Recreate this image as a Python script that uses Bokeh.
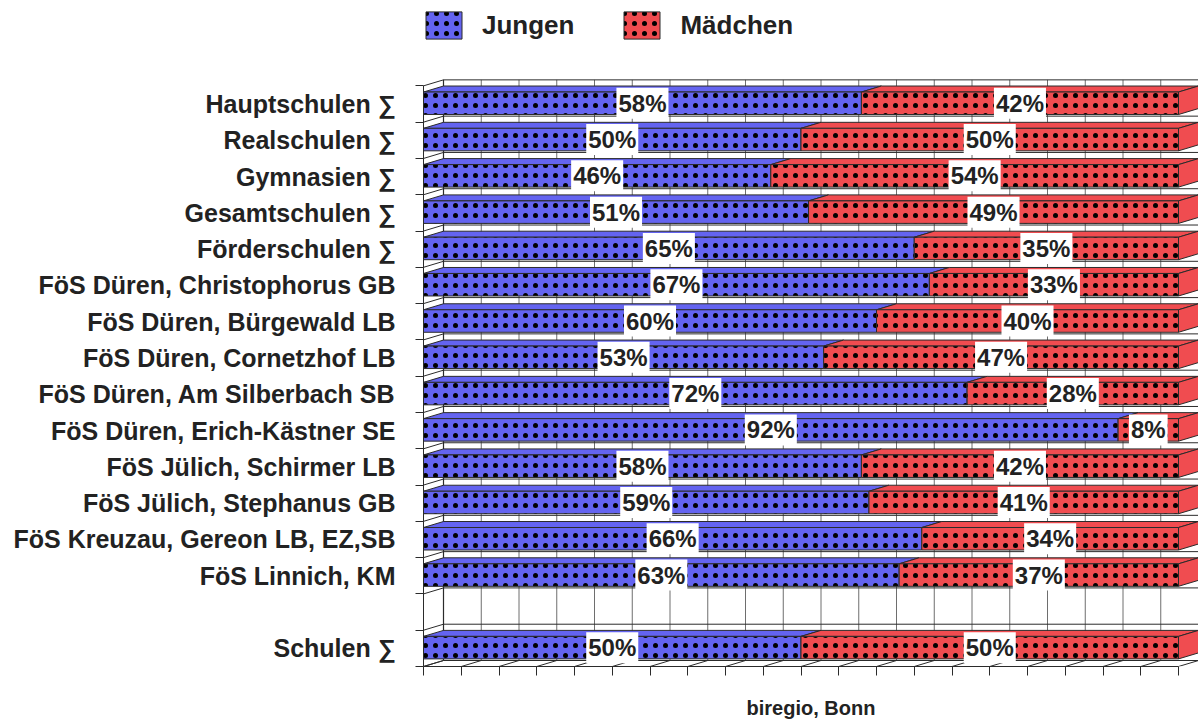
from bokeh.plotting import figure
from bokeh.models import Range1d, FixedTicker, Legend, LegendItem, ColumnDataSource
from bokeh.core.properties import value
from bokeh.embed import file_html
from bokeh.resources import INLINE

# ---------------- data ----------------
categories = [
    "Hauptschulen ∑", "Realschulen ∑", "Gymnasien ∑", "Gesamtschulen ∑",
    "Förderschulen ∑", "FöS Düren, Christophorus GB", "FöS Düren, Bürgewald LB",
    "FöS Düren, Cornetzhof LB", "FöS Düren, Am Silberbach SB",
    "FöS Düren, Erich-Kästner SE", "FöS Jülich, Schirmer LB",
    "FöS Jülich, Stephanus GB", "FöS Kreuzau, Gereon LB, EZ,SB",
    "FöS Linnich, KM", "Schulen ∑",
]
jungen = [58, 50, 46, 51, 65, 67, 60, 53, 72, 92, 58, 59, 66, 63, 50]
maedchen = [42, 50, 54, 49, 35, 33, 40, 47, 28, 8, 42, 41, 34, 37, 50]
series_names = ["Jungen", "Mädchen"]
source_note = "biregio, Bonn"

# ---------------- styling / layout ----------------
BLUE = "#6464F0"
RED = "#F04C50"
EDGE = "#2b2b2b"
GRID = "#6e6e6e"
TXT = "#222222"
FONT = "Liberation Sans"

N_SLOTS = 16
slots = list(range(14)) + [15]          # one empty slot before the total row
FIG_W, FIG_H = 1198, 721
LEFT, BOTTOM = 423, 55
FRAME_W, FRAME_H = FIG_W - LEFT, FIG_H - BOTTOM
PX_Y = 36.29
DX_PX, DY_PX = 20, 6
PX_X = (FRAME_W - DX_PX) / 100.0
DX = DX_PX / PX_X
DY = DY_PX / PX_Y
Y_TOP = FRAME_H / PX_Y
H = 0.62
OFF = 0.02

p = figure(width=FIG_W, height=FIG_H,
           x_range=Range1d(0, 100 + DX), y_range=Range1d(0, Y_TOP),
           output_backend="svg", toolbar_location=None,
           min_border_left=LEFT, min_border_right=0,
           min_border_top=0, min_border_bottom=BOTTOM)
p.outline_line_color = None
p.xgrid.visible = False
p.ygrid.visible = False
p.background_fill_color = "white"

# ---------------- 3D walls ----------------
gx = [5 * k for k in range(21)]
p.segment(x0=[g + DX for g in gx], y0=DY, x1=[g + DX for g in gx], y1=N_SLOTS + DY,
          line_color=GRID, line_width=1)
bounds = list(range(N_SLOTS + 1))
p.segment(x0=DX, y0=[b + DY for b in bounds], x1=100 + DX, y1=[b + DY for b in bounds],
          line_color=EDGE, line_width=1)
p.segment(x0=DX, y0=DY, x1=DX, y1=N_SLOTS + DY, line_color=EDGE, line_width=1.2)
p.segment(x0=0, y0=bounds, x1=DX, y1=[b + DY for b in bounds], line_color=EDGE, line_width=1)
p.segment(x0=gx, y0=0, x1=[g + DX for g in gx], y1=DY, line_color=EDGE, line_width=1)

# ---------------- bars ----------------
yc = [N_SLOTS - s - 0.5 + OFF for s in slots]
bot = [y - H / 2 for y in yc]
top = [y + H / 2 for y in yc]
ends = [j + m for j, m in zip(jungen, maedchen)]

def top_faces(x0s, x1s):
    xs, ys = [], []
    for a, b, t in zip(x0s, x1s, top):
        xs.append([a, b, b + DX, a + DX])
        ys.append([t, t, t + DY, t + DY])
    return xs, ys

bx, by = top_faces([0] * len(jungen), jungen)
p.patches(bx, by, fill_color=BLUE, line_color=EDGE, line_width=1)
rx, ry = top_faces(jungen, ends)
p.patches(rx, ry, fill_color=RED, line_color=EDGE, line_width=1)
sx = [[e, e + DX, e + DX, e] for e in ends]
sy = [[b, b + DY, t + DY, t] for b, t in zip(bot, top)]
p.patches(sx, sy, fill_color=RED, line_color=EDGE, line_width=1)

rb = p.quad(left=0, right=jungen, bottom=bot, top=top,
            fill_color=BLUE, line_color=EDGE, line_width=1,
            hatch_pattern="dot", hatch_color="black", hatch_scale=10, hatch_weight=2.5)
rr = p.quad(left=jungen, right=ends, bottom=bot, top=top,
            fill_color=RED, line_color=EDGE, line_width=1,
            hatch_pattern="dot", hatch_color="black", hatch_scale=10, hatch_weight=2.5)

# ---------------- value labels ----------------
lab = ColumnDataSource(dict(
    x=[j / 2 for j in jungen] + [j + m / 2 for j, m in zip(jungen, maedchen)],
    y=yc + yc,
    t=[f"{v}%" for v in jungen] + [f"{v}%" for v in maedchen],
))
p.text(x="x", y="y", text="t", source=lab, text_align="center", text_baseline="middle",
       text_font=value(FONT), text_font_style="bold", text_font_size="24px",
       text_color=TXT, background_fill_color="white", padding=2)

# ---------------- axes ----------------
centers = [N_SLOTS - s - 0.5 for s in slots]
ya = p.yaxis[0]
ya.ticker = FixedTicker(ticks=centers, minor_ticks=bounds)
ya.major_label_overrides = {c: name for c, name in zip(centers, categories)}
ya.bounds = (0, N_SLOTS)
ya.major_tick_out = 0
ya.major_tick_in = 0
ya.minor_tick_out = 8
ya.minor_tick_in = 0
ya.minor_tick_line_color = EDGE
ya.axis_line_color = EDGE
ya.major_label_standoff = 20
ya.major_label_text_font = FONT
ya.major_label_text_font_style = "bold"
ya.major_label_text_font_size = "25px"
ya.major_label_text_color = TXT

xa = p.xaxis[0]
xa.ticker = FixedTicker(ticks=gx, minor_ticks=[])
xa.major_label_overrides = {float(g): "" for g in gx}
xa.bounds = (0, 100)
xa.major_tick_out = 9
xa.major_tick_in = 0
xa.minor_tick_out = 0
xa.minor_tick_in = 0
xa.major_tick_line_color = EDGE
xa.axis_line_color = EDGE
xa.major_label_standoff = 0
xa.axis_label = source_note
xa.axis_label_standoff = 21
xa.axis_label_text_font = FONT
xa.axis_label_text_font_style = "bold"
xa.axis_label_text_font_size = "20px"
xa.axis_label_text_color = TXT

# ---------------- legend ----------------
legend = Legend(items=[LegendItem(label=series_names[0], renderers=[rb]),
                       LegendItem(label=series_names[1], renderers=[rr])],
                orientation="horizontal", location=(-2, FRAME_H - 8 - 34),
                padding=0, margin=0, spacing=45, label_standoff=16,
                glyph_width=45, glyph_height=34, label_height=34,
                label_text_font=FONT, label_text_font_style="bold",
                label_text_font_size="26px", label_text_color=TXT,
                border_line_color=None, background_fill_alpha=0)
p.add_layout(legend, "center")

open("out.html", "w").write(file_html(p, INLINE))
